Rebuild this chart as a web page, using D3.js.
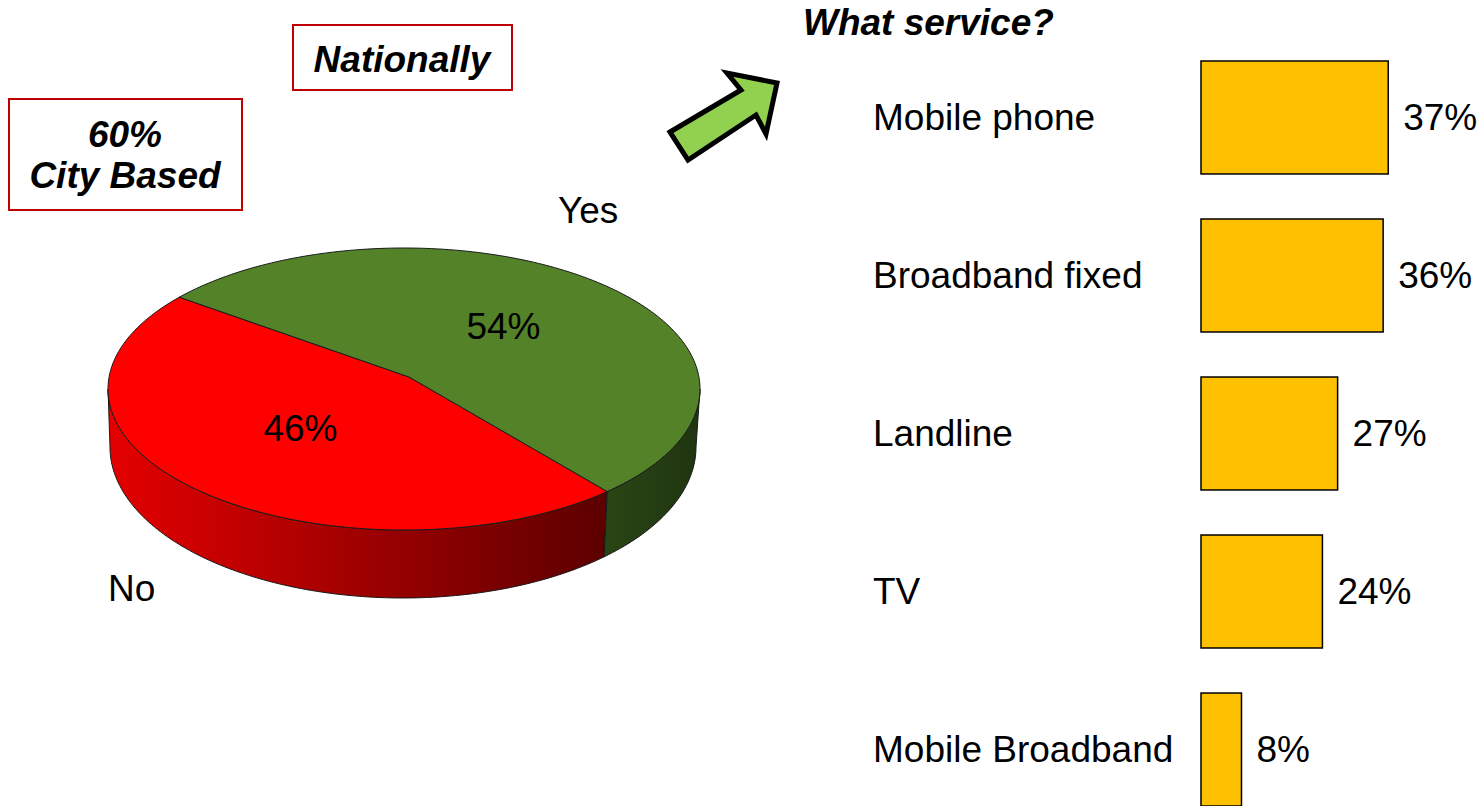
<!DOCTYPE html>
<html>
<head>
<meta charset="utf-8">
<script src="https://cdn.jsdelivr.net/npm/d3@7"></script>
<style>
  body { margin: 0; background: #fff; }
  svg { display: block; font-family: "Liberation Sans", Arial, sans-serif; }
</style>
</head>
<body>
<script>
// pie data
var pieLabels = ["No", "Yes"];
var pieValues = [46, 54];
var pieTop = ["#ff0000", "#548228"];

// bar data
var services = ["Mobile phone", "Broadband fixed", "Landline", "TV", "Mobile Broadband"];
var serviceValues = [37, 36, 27, 24, 8];

var width = 1482, height = 806;

var svg = d3.select("body").append("svg")
    .attr("width", width)
    .attr("height", height);

var defs = svg.append("defs");
var redSide = defs.append("linearGradient")
    .attr("id", "redSide")
    .attr("gradientUnits", "userSpaceOnUse")
    .attr("x1", 110).attr("x2", 606).attr("y1", 0).attr("y2", 0);
redSide.append("stop").attr("offset", 0).attr("stop-color", "#e40000");
redSide.append("stop").attr("offset", 0.5).attr("stop-color", "#a00000");
redSide.append("stop").attr("offset", 1).attr("stop-color", "#5c0000");
var greenSide = defs.append("linearGradient")
    .attr("id", "greenSide")
    .attr("gradientUnits", "userSpaceOnUse")
    .attr("x1", 606).attr("x2", 700).attr("y1", 0).attr("y2", 0);
greenSide.append("stop").attr("offset", 0).attr("stop-color", "#2a4515");
greenSide.append("stop").attr("offset", 1).attr("stop-color", "#1f3510");
var sideFill = ["url(#redSide)", "url(#greenSide)"];

// ---- 3D pie ----
var top_ = {cx: 404, cy: 389, rx: 296, ry: 141};
var bot = {cx: 403, cy: 447, rx: 293, ry: 151};
var apex = {x: 409, y: 377};

// intersect a ray from the apex (in squashed space) with the top ellipse
function rayParam(t) {
  var u0 = (apex.x - top_.cx) / top_.rx, v0 = (apex.y - top_.cy) / top_.ry;
  var du = Math.cos(t), dv = Math.sin(t);
  var b = u0 * du + v0 * dv, c = u0 * u0 + v0 * v0 - 1;
  var s = -b + Math.sqrt(b * b - c);
  return Math.atan2(v0 + s * dv, u0 + s * du);
}
function pt(e, t) { return [e.cx + e.rx * Math.cos(t), e.cy + e.ry * Math.sin(t)]; }
function samples(a, b) {
  var n = Math.max(2, Math.ceil(Math.abs(b - a) / 0.02));
  return d3.range(n + 1).map(function(i) { return a + (b - a) * i / n; });
}

var start = 140.5 * Math.PI / 180;
var pie = d3.pie().sort(null).startAngle(start).endAngle(start + 2 * Math.PI);
var arcs = pie(pieValues);

arcs.forEach(function(d) {
  d.t0 = rayParam(d.startAngle - Math.PI / 2);
  d.t1 = rayParam(d.endAngle - Math.PI / 2);
  while (d.t0 < 0) d.t0 += 2 * Math.PI;
  while (d.t1 <= d.t0) d.t1 += 2 * Math.PI;
});

var line = d3.line();
var gPie = svg.append("g");

// side walls (front half only: t in [0, PI] and [2PI, 3PI])
arcs.forEach(function(d, i) {
  [[0, Math.PI], [2 * Math.PI, 3 * Math.PI]].forEach(function(r) {
    var a = Math.max(d.t0, r[0]), b = Math.min(d.t1, r[1]);
    if (b <= a) return;
    var ts = samples(a, b);
    var p = ts.map(function(t) { return pt(top_, t); })
      .concat(ts.slice().reverse().map(function(t) { return pt(bot, t); }));
    gPie.append("path")
        .attr("d", line(p) + "Z")
        .attr("fill", sideFill[i])
        .attr("stroke", "#1a1a1a")
        .attr("stroke-width", 1)
        .attr("stroke-linejoin", "round");
  });
});

// top faces
arcs.forEach(function(d, i) {
  var p = [[apex.x, apex.y]].concat(samples(d.t0, d.t1).map(function(t) { return pt(top_, t); }));
  gPie.append("path")
      .attr("d", line(p) + "Z")
      .attr("fill", pieTop[i])
      .attr("stroke", "#1a1a1a")
      .attr("stroke-width", 1)
      .attr("stroke-linejoin", "round");
});

// percentage labels in the slices
gPie.selectAll(".pct")
    .data(arcs)
    .enter().append("text")
    .attr("class", "pct")
    .attr("x", function(d) { var m = (d.startAngle + d.endAngle) / 2 - Math.PI / 2; return 402 + 0.5 * top_.rx * Math.cos(m); })
    .attr("y", function(d) { var m = (d.startAngle + d.endAngle) / 2 - Math.PI / 2; return apex.y + 0.5 * top_.ry * Math.sin(m); })
    .attr("dy", "0.35em")
    .attr("text-anchor", "middle")
    .style("font-size", "37px")
    .text(function(d) { return d.data + "%"; });

// category labels
var catPos = [[108, 601], [558, 223]];
gPie.selectAll(".cat")
    .data(pieLabels)
    .enter().append("text")
    .attr("class", "cat")
    .attr("x", function(d, i) { return catPos[i][0]; })
    .attr("y", function(d, i) { return catPos[i][1]; })
    .style("font-size", "37px")
    .text(function(d) { return d; });

// boxes
svg.append("rect")
    .attr("x", 9).attr("y", 99).attr("width", 233).attr("height", 111)
    .attr("fill", "#fff").attr("stroke", "#c00000").attr("stroke-width", 2);
svg.append("text")
    .attr("x", 125).attr("y", 147)
    .attr("text-anchor", "middle")
    .style("font-size", "37px").style("font-weight", "bold").style("font-style", "italic")
    .text("60%");
svg.append("text")
    .attr("x", 125).attr("y", 188)
    .attr("text-anchor", "middle")
    .style("font-size", "37px").style("font-weight", "bold").style("font-style", "italic")
    .text("City Based");

svg.append("rect")
    .attr("x", 293).attr("y", 25).attr("width", 219).attr("height", 65)
    .attr("fill", "#fff").attr("stroke", "#c00000").attr("stroke-width", 2);
svg.append("text")
    .attr("x", 402).attr("y", 72)
    .attr("text-anchor", "middle")
    .style("font-size", "37px").style("font-weight", "bold").style("font-style", "italic")
    .text("Nationally");

// arrow
svg.append("polygon")
    .attr("points", "670,132 741,90 727,73 777,83 766,134 756,115 688,160")
    .attr("fill", "#92d050")
    .attr("stroke", "#000")
    .attr("stroke-width", 5)
    .attr("stroke-linejoin", "miter");

// ---- bar chart ----
svg.append("text")
    .attr("x", 803).attr("y", 35)
    .style("font-size", "37px").style("font-weight", "bold").style("font-style", "italic")
    .text("What service?");

var x = d3.scaleLinear().domain([0, 100]).range([1201, 1707]);
var y = d3.scaleBand().domain(services).range([61, 806]).paddingInner(0.285).paddingOuter(0).align(0);

var gBar = svg.append("g");
gBar.selectAll("rect")
    .data(serviceValues)
    .enter().append("rect")
    .attr("x", x(0))
    .attr("y", function(d, i) { return y(services[i]); })
    .attr("width", function(d) { return x(d) - x(0); })
    .attr("height", y.bandwidth())
    .attr("fill", "#ffc000")
    .attr("stroke", "#000")
    .attr("stroke-width", 1.5);

gBar.selectAll(".val")
    .data(serviceValues)
    .enter().append("text")
    .attr("class", "val")
    .attr("x", function(d) { return x(d) + 15; })
    .attr("y", function(d, i) { return y(services[i]) + y.bandwidth() / 2; })
    .attr("dy", "0.35em")
    .style("font-size", "37px")
    .text(function(d) { return d + "%"; });

gBar.selectAll(".name")
    .data(services)
    .enter().append("text")
    .attr("class", "name")
    .attr("x", 873)
    .attr("y", function(d) { return y(d) + y.bandwidth() / 2; })
    .attr("dy", "0.35em")
    .style("font-size", "37px")
    .text(function(d) { return d; });
</script>
</body>
</html>
